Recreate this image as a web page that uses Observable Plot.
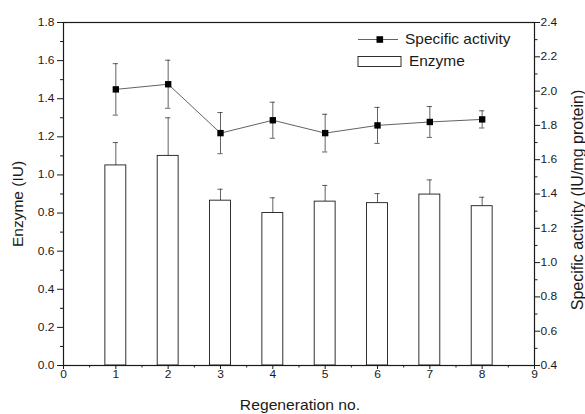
<!DOCTYPE html>
<html><head><meta charset="utf-8">
<script src="https://cdn.jsdelivr.net/npm/d3@7"></script>
<script src="https://cdn.jsdelivr.net/npm/@observablehq/plot@0.6"></script>
<style>
html,body{margin:0;padding:0;background:#fff;}
#chart svg{display:block;}
</style></head><body><div id="chart"></div>
<script>
// ---- data ----
const regeneration = [1, 2, 3, 4, 5, 6, 7, 8];
const enzyme = [1.05, 1.10, 0.865, 0.80, 0.86, 0.852, 0.897, 0.836];
const enzymeErr = [0.12, 0.20, 0.06, 0.08, 0.085, 0.05, 0.077, 0.047];
const specificActivity = [2.01, 2.04, 1.755, 1.83, 1.755, 1.80, 1.82, 1.835];
const specificErr = [0.15, 0.14, 0.12, 0.105, 0.11, 0.105, 0.09, 0.05];

const xTicks = [0, 1, 2, 3, 4, 5, 6, 7, 8, 9];
const xMinorTicks = [0.5, 1.5, 2.5, 3.5, 4.5, 5.5, 6.5, 7.5, 8.5];
const leftTicks = [0, 0.2, 0.4, 0.6, 0.8, 1.0, 1.2, 1.4, 1.6, 1.8];
const leftMinorTicks = [0.1, 0.3, 0.5, 0.7, 0.9, 1.1, 1.3, 1.5, 1.7];
const rightTicks = [0.4, 0.6, 0.8, 1.0, 1.2, 1.4, 1.6, 1.8, 2.0, 2.2, 2.4];
const rightMinorTicks = [0.5, 0.7, 0.9, 1.1, 1.3, 1.5, 1.7, 1.9, 2.1, 2.3];

const xLabel = "Regeneration no.";
const leftLabel = "Enzyme (IU)";
const rightLabel = "Specific activity (IU/mg protein)";
const seriesNames = ["Specific activity", "Enzyme"];

// right axis domain [0.4, 2.4] mapped onto left axis domain [0, 1.8]
const rightDomain = [0.4, 2.4];
const leftDomain = [0, 1.8];
const k = (leftDomain[1] - leftDomain[0]) / (rightDomain[1] - rightDomain[0]);
const toLeft = v => (v - rightDomain[0]) * k + leftDomain[0];
const toRight = v => (v - leftDomain[0]) / k + rightDomain[0];

const rows = regeneration.map((r, i) => ({
  r,
  e: enzyme[i],
  eHi: enzyme[i] + enzymeErr[i],
  s: toLeft(specificActivity[i]),
  sLo: toLeft(specificActivity[i] - specificErr[i]),
  sHi: toLeft(specificActivity[i] + specificErr[i])
}));

const font = "'Liberation Sans', Arial, Helvetica, sans-serif";
const ink = "#1a1a1a";
const errInk = "#3a3a3a";
const barHalf = 0.2, capHalf = 0.05;
const textStretch = 1.12; // the reference's horizontal text is slightly wide

function legend(index, scales, values, dimensions) {
  const {width, marginRight, marginTop} = dimensions;
  const rx = width - marginRight, ty = marginTop;
  const g = d3.create("svg:g").attr("font-family", font).attr("font-size", 13.8)
    .attr("fill", ink).attr("text-anchor", "start");
  const ly = ty + 17.5;
  g.append("line").attr("x1", rx - 176).attr("x2", rx - 136).attr("y1", ly).attr("y2", ly)
    .attr("stroke", errInk).attr("stroke-width", 0.8);
  g.append("rect").attr("x", rx - 157.5).attr("y", ly - 3.3).attr("width", 6.6).attr("height", 6.6).attr("fill", "#000");
  g.append("text").attr("x", rx - 129).attr("y", ly).attr("dy", "0.36em").text(seriesNames[0]);
  g.append("rect").attr("x", rx - 176).attr("y", ty + 34.5).attr("width", 43).attr("height", 10)
    .attr("fill", "white").attr("stroke", ink).attr("stroke-width", 0.9);
  g.append("text").attr("x", rx - 125).attr("y", ty + 39.5).attr("dy", "0.36em").text(seriesNames[1]);
  return g.node();
}

const chart = Plot.plot({
  width: 585,
  height: 414,
  marginLeft: 63,
  marginRight: 51,
  marginTop: 22,
  marginBottom: 49,
  style: {fontFamily: font, fontSize: "10.7px", color: ink, background: "white"},
  x: {domain: [0, 9]},
  y: {domain: leftDomain},
  marks: [
    // enzyme bars + upper error bars
    Plot.ruleX(rows, {x: "r", y1: "e", y2: "eHi", stroke: errInk, strokeWidth: 0.8}),
    Plot.ruleY(rows, {y: "eHi", x1: d => d.r - capHalf, x2: d => d.r + capHalf, stroke: errInk, strokeWidth: 0.8}),
    Plot.rect(rows, {x1: d => d.r - barHalf, x2: d => d.r + barHalf, y1: 0, y2: "e", fill: "white", stroke: ink, strokeWidth: 0.9}),
    // specific activity
    Plot.ruleX(rows, {x: "r", y1: "sLo", y2: "sHi", stroke: errInk, strokeWidth: 0.8}),
    Plot.ruleY(rows, {y: "sHi", x1: d => d.r - capHalf, x2: d => d.r + capHalf, stroke: errInk, strokeWidth: 0.8}),
    Plot.ruleY(rows, {y: "sLo", x1: d => d.r - capHalf, x2: d => d.r + capHalf, stroke: errInk, strokeWidth: 0.8}),
    Plot.line(rows, {x: "r", y: "s", stroke: errInk, strokeWidth: 0.8}),
    Plot.dot(rows, {x: "r", y: "s", symbol: "square", r: 3.6, fill: "#000", stroke: "none"}),
    // frame
    Plot.frame({stroke: ink, strokeWidth: 1.2}),
    // axes
    Plot.axisX(xTicks, {tickSize: 4, tickPadding: 1, label: null, tickFormat: d => String(d)}),
    Plot.axisX(xMinorTicks, {tickSize: 2.5, label: null, tickFormat: () => ""}),
    Plot.axisY(leftTicks, {anchor: "left", tickSize: 6, tickPadding: 3, label: null, tickFormat: d => d.toFixed(1)}),
    Plot.axisY(leftMinorTicks, {anchor: "left", tickSize: 3, label: null, tickFormat: () => ""}),
    Plot.axisY(rightTicks.map(toLeft), {anchor: "right", tickSize: 5, tickPadding: 1, label: null, tickFormat: d => toRight(d).toFixed(1)}),
    Plot.axisY(rightMinorTicks.map(toLeft), {anchor: "right", tickSize: 2.5, label: null, tickFormat: () => ""}),
    // axis titles
    Plot.text([xLabel], {text: d => d, frameAnchor: "bottom", dx: 1, dy: 40.5, textAnchor: "middle", lineAnchor: "middle", fontSize: 14, fill: ink}),
    Plot.text([leftLabel], {text: d => d, frameAnchor: "left", dx: -45, dy: 10, rotate: -90, textAnchor: "middle", lineAnchor: "middle", fontSize: 15.5, fill: ink}),
    Plot.text([rightLabel], {text: d => d, frameAnchor: "right", dx: 43.5, dy: 6, rotate: -90, textAnchor: "middle", lineAnchor: "middle", fontSize: 16, fill: ink}),
    legend
  ]
});

// widen horizontal text slightly about its own anchor, as in the reference
chart.querySelectorAll("text").forEach(el => {
  const tr = el.getAttribute("transform") || "";
  if (tr.includes("rotate")) return;
  const x = parseFloat(el.getAttribute("x")) || 0;
  const y = parseFloat(el.getAttribute("y")) || 0;
  el.setAttribute("transform", `${tr} translate(${x},${y}) scale(${textStretch},1) translate(${-x},${-y})`);
});

document.getElementById("chart").appendChild(chart);
</script>
</body></html>
